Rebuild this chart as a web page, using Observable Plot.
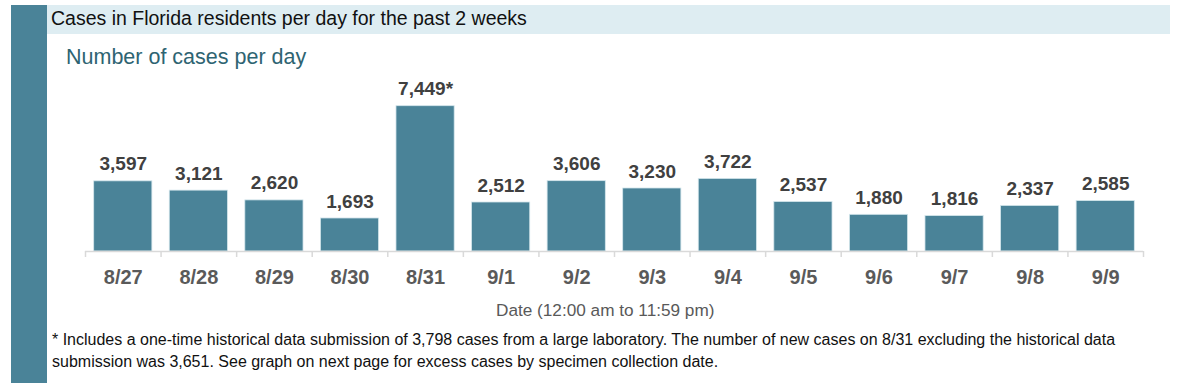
<!DOCTYPE html>
<html><head><meta charset="utf-8">
<script src="https://cdn.jsdelivr.net/npm/d3@7"></script>
<script src="https://cdn.jsdelivr.net/npm/@observablehq/plot@0.6"></script>
<style>
body{margin:0;background:#fff;font-family:"Liberation Sans",Arial,sans-serif;}
#wrap{position:relative;width:1200px;height:383px;overflow:hidden;background:#fff;}
#sidebar{position:absolute;left:11px;top:5px;width:36px;height:378px;background:#4a8398;}
#band{position:absolute;left:47px;top:5px;width:1123px;height:29px;background:#deedf2;}
#title{position:absolute;left:51px;top:7px;font-size:19.5px;color:#111;white-space:nowrap;}
#subtitle{position:absolute;left:66px;top:45px;font-size:21.5px;color:#2e6472;white-space:nowrap;}
#chart{position:absolute;left:0;top:70px;}
#xlabel{position:absolute;left:496px;top:300px;font-size:17.2px;color:#595959;white-space:nowrap;}
#note{position:absolute;left:52px;top:329px;font-size:16px;line-height:22px;color:#111;white-space:nowrap;}
</style></head>
<body>
<div id="wrap">
  <div id="sidebar"></div>
  <div id="band"></div>
  <div id="title">Cases in Florida residents per day for the past 2 weeks</div>
  <div id="subtitle">Number of cases per day</div>
  <div id="chart"></div>
  <div id="xlabel">Date (12:00 am to 11:59 pm)</div>
  <div id="note">* Includes a one-time historical data submission of 3,798 cases from a large laboratory. The number of new cases on 8/31 excluding the historical data<br>submission was 3,651. See graph on next page for excess cases by specimen collection date.</div>
</div>
<script>
const dates = ["8/27","8/28","8/29","8/30","8/31","9/1","9/2","9/3","9/4","9/5","9/6","9/7","9/8","9/9"];
const cases = [3597,3121,2620,1693,7449,2512,3606,3230,3722,2537,1880,1816,2337,2585];
const marks = ["","","","","*","","","","","","","","",""];

const data = dates.map((d,i)=>({date:d, value:cases[i], label:d3.format(",")(cases[i]) + marks[i]}));
const step = (1200 - 85 - 57) / dates.length;

const chart = Plot.plot({
  width: 1200,
  height: 230,
  marginLeft: 85,
  marginRight: 57,
  marginTop: 0,
  marginBottom: 49,
  style: {fontFamily: '"Liberation Sans", Arial, sans-serif', color: "#595959", background: "transparent"},
  x: {domain: dates, paddingInner: 0.23, paddingOuter: 0.115, round: false, label: null},
  y: {domain: [0, 9279], axis: null},
  marks: [
    Plot.barY(data, {x: "date", y: "value", fill: "#4a8398", stroke: "#d4e6ec", strokeWidth: 0.8}),
    Plot.ruleY([0], {stroke: "#d9d9d9", strokeWidth: 1.5}),
    Plot.ruleX(dates, {x: d => d, y1: 0, y2: 0, insetBottom: -6, dx: -step/2, stroke: "#d9d9d9", strokeWidth: 1.5}),
    Plot.ruleX(dates.slice(-1), {x: d => d, y1: 0, y2: 0, insetBottom: -6, dx: step/2, stroke: "#d9d9d9", strokeWidth: 1.5}),
    Plot.text(data, {x: "date", y: "value", text: "label", dy: -17, fontSize: 19, fontWeight: "bold", fill: "#404040"}),
    Plot.axisX({tickSize: 0, tickPadding: 18, fontSize: 20, fontWeight: "bold", fill: "#5a5a5a"})
  ]
});
document.getElementById("chart").appendChild(chart);
</script>
</body></html>
